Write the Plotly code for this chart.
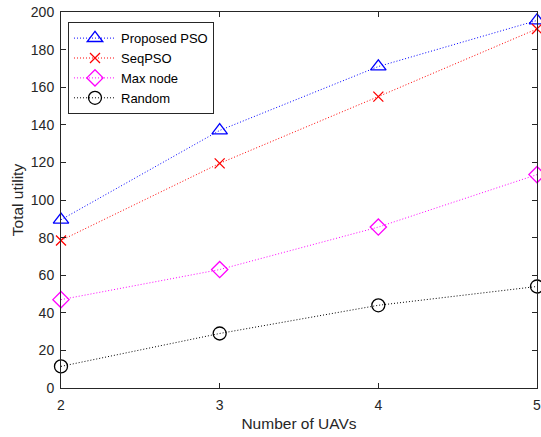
import plotly.graph_objects as go

uavs = [2, 3, 4, 5]
proposed_pso = [89.5, 137, 171, 195.5]
seq_pso = [78.5, 119.5, 155, 191]
max_node = [47, 63, 85.6, 113.5]
random_sel = [11.5, 29, 44, 54]

series = [
    ("Proposed PSO", proposed_pso, "#0000FF", "triangle-up-open", 13.5),
    ("SeqPSO", seq_pso, "#FF0000", "x-thin-open", 10),
    ("Max node", max_node, "#FF00FF", "diamond-open", 12.5),
    ("Random", random_sel, "#000000", "circle-open", 13),
]

fig = go.Figure()
for name, vals, col, sym, sz in series:
    fig.add_trace(go.Scatter(
        x=uavs, y=vals, name=name, mode="lines+markers",
        line=dict(color=col, width=1, dash="1px,2px"),
        marker=dict(symbol=sym, size=sz, color=col, line=dict(color=col, width=1.3)),
        cliponaxis=False,
    ))

axis_common = dict(
    showline=True, linecolor="#262626", linewidth=1, mirror="ticks",
    ticks="inside", ticklen=5, tickcolor="#262626", showgrid=False, zeroline=False,
    ticklabeloverflow="allow",
    tickfont=dict(family="Liberation Sans, Arial", size=14, color="#262626"),
)

fig.update_layout(
    width=541, height=437,
    margin=dict(l=61, r=4, t=12, b=49, autoexpand=False),
    paper_bgcolor="white", plot_bgcolor="white",
    font=dict(family="Liberation Sans, Arial", color="#262626"),
    xaxis=dict(range=[2, 5], tickvals=[2, 3, 4, 5], automargin=False, ticklabelstandoff=4,
               title=dict(text="Number of UAVs", font=dict(size=15.5), standoff=6), **axis_common),
    yaxis=dict(range=[0, 200], tickvals=list(range(0, 201, 20)), automargin=False, ticklabelstandoff=3,
               title=dict(text="Total utility", font=dict(size=15.5), standoff=3), **axis_common),
    legend=dict(x=0.0147, y=0.973, xanchor="left", yanchor="top",
                bordercolor="#262626", borderwidth=1, bgcolor="white",
                font=dict(size=13, color="black"), tracegroupgap=0,
                itemwidth=42),
    showlegend=True,
)

fig.write_html("out.html", config={"displayModeBar": False},
               post_script="document.body.style.margin='0';document.body.style.overflow='hidden';")
